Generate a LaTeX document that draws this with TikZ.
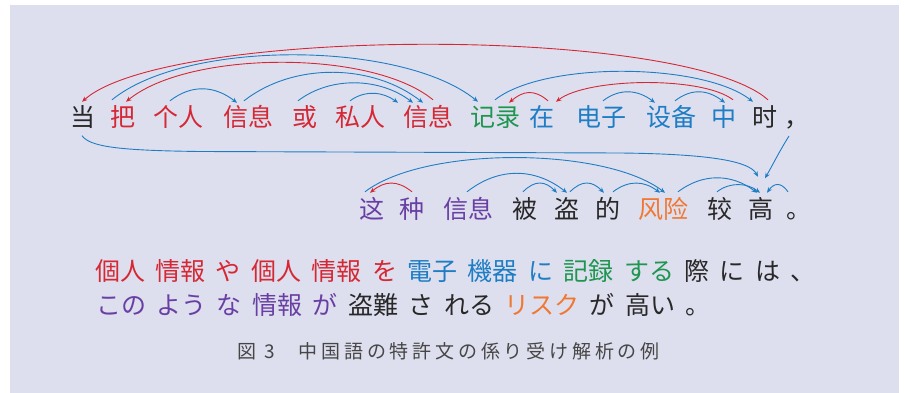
\documentclass[tikz,border=0pt]{standalone}
\usepackage{fontspec}
\usetikzlibrary{arrows.meta,calc}
\newfontfamily\zhfont{Noto Sans CJK SC}
\newfontfamily\jafont{Noto Sans CJK JP}
\definecolor{bgc}{RGB}{221,223,238}
\definecolor{jred}{RGB}{214,40,52}
\definecolor{jblue}{RGB}{30,125,196}
\definecolor{jgreen}{RGB}{30,150,80}
\definecolor{jpurple}{RGB}{106,63,163}
\definecolor{jorange}{RGB}{240,120,50}
\definecolor{jblack}{RGB}{40,40,40}
\definecolor{capgray}{RGB}{70,70,70}
\newcommand\gp{\hspace{10.4pt}}
\begin{document}
\begin{tikzpicture}[x=1pt,y=-1pt,
  zh/.style={font=\zhfont\fontsize{25}{25}\selectfont, inner sep=0pt, text height=21pt, text depth=4pt},
  ja/.style={font=\jafont\fontsize{25}{25}\selectfont, inner sep=0pt, text height=21pt, text depth=4pt, anchor=west},
  arc/.style={line width=0.9pt, -{Stealth[length=5.5pt,width=4.5pt]}},
  bl/.style={arc, color=jblue}, rd/.style={arc, color=jred}]
\useasboundingbox (0,0) rectangle (905,393);
\fill[bgc] (10,5) rectangle (899,393);
% row 1
\node[zh, text=jblack] (n1) at (83,118.5) {当};
\node[zh, text=jred] (n2) at (123,118.5) {把};
\node[zh, text=jred] (n3) at (178,118.5) {个人};
\node[zh, text=jred] (n4) at (248,118.5) {信息};
\node[zh, text=jred] (n5) at (305,118.5) {或};
\node[zh, text=jred] (n6) at (360,118.5) {私人};
\node[zh, text=jred] (n7) at (428,118.5) {信息};
\node[zh, text=jgreen] (n8) at (495,118.5) {记录};
\node[zh, text=jblue] (n9) at (542,118.5) {在};
\node[zh, text=jblue] (n10) at (601,118.5) {电子};
\node[zh, text=jblue] (n11) at (671,118.5) {设备};
\node[zh, text=jblue] (n12) at (724,118.5) {中};
\node[zh, text=jblack] (n13) at (765,118.5) {时};
\node[zh, text=jblack] (n14) at (797,118.5) {，};
% row 2
\node[zh, text=jpurple] (m1) at (372,210) {这};
\node[zh, text=jpurple] (m2) at (412,210) {种};
\node[zh, text=jpurple] (m3) at (468,210) {信息};
\node[zh, text=jblack] (m4) at (525,210) {被};
\node[zh, text=jblack] (m5) at (567,210) {盗};
\node[zh, text=jblack] (m6) at (608,210) {的};
\node[zh, text=jorange] (m7) at (663,210) {风险};
\node[zh, text=jblack] (m8) at (720,210) {较};
\node[zh, text=jblack] (m9) at (761,210) {高};
\node[zh, text=jblack] (m10) at (798.5,210) {。};
% arcs row 1
\draw[rd] ($(n13.north)+(3,-6)$) .. controls +(-85,-75) and +(85,-75) .. ($(n1.north)+(-1,-4)$);
\draw[bl] ($(n2.north)+(-11,-6)$) .. controls +(75,-61) and +(-75,-61) .. ($(n8.north)+(-17,-4)$);
\draw[rd] ($(n7.north)+(5,-6)$) .. controls +(-62,-51) and +(62,-51) .. ($(n2.north)+(3,-4)$);
\draw[bl] ($(n3.north)+(-8,-5)$) .. controls +(22,-17) and +(-22,-17) .. ($(n4.north)+(-11,-3)$);
\draw[bl] ($(n4.north)+(-4,-5)$) .. controls +(50,-39) and +(-50,-39) .. ($(n7.north)+(-5,-3)$);
\draw[bl] ($(n5.north)+(-7,-5)$) .. controls +(33,-25) and +(-33,-25) .. ($(n7.north)+(-15,-3)$);
\draw[bl] ($(n6.north)+(-10,-5)$) .. controls +(15,-11) and +(-15,-11) .. ($(n7.north)+(-30,-3)$);
\draw[bl] ($(n8.north)+(0,-6)$) .. controls +(50,-39) and +(-50,-39) .. ($(n13.north)+(-12,-4)$);
\draw[rd] ($(n9.north)+(6,-5)$) .. controls +(-14,-12) and +(14,-12) .. ($(n8.north)+(14,-3)$);
\draw[rd] ($(n12.north)+(9,-6)$) .. controls +(-31,-24) and +(31,-24) .. ($(n9.north)+(14,-4)$);
\draw[bl] ($(n10.north)+(2,-5)$) .. controls +(17,-13) and +(-17,-13) .. ($(n11.north)+(-16,-3)$);
\draw[bl] ($(n11.north)+(4,-5)$) .. controls +(17,-13) and +(-17,-13) .. ($(n12.north)+(1,-3)$);
% long links to row 2
\draw[bl] ($(n1.south)+(-1,4.5)$) .. controls (90,147) and (120,150.5) .. (200,151.5) -- (620,153) .. controls (715,154) and (750,162) .. ($(m9.north)+(-3,-20.5)$);
\draw[bl] ($(n14.center)+(-8,17.5)$) .. controls +(-10,16) and +(8,-14) .. ($(m9.north)+(4,-19)$);
% arcs row 2
\draw[bl] ($(m1.north)+(-7,-5.5)$) .. controls +(60,-46) and +(-60,-46) .. ($(m7.north)+(2,-4.5)$);
\draw[rd] ($(m2.north)+(0,-5.5)$) .. controls +(-15,-12) and +(15,-12) .. ($(m1.north)+(-2,-4.5)$);
\draw[bl] ($(m3.north)+(-1,-5.5)$) .. controls +(32,-25) and +(-32,-25) .. ($(m5.north)+(0,-4.5)$);
\draw[bl] ($(m4.north)+(-2,-5.5)$) .. controls +(12,-12) and +(-12,-12) .. ($(m5.north)+(-10,-4.5)$);
\draw[bl] ($(m5.north)+(3,-5.5)$) .. controls +(12,-12) and +(-12,-12) .. ($(m6.north)+(-4,-4.5)$);
\draw[bl] ($(m6.north)+(5,-5.5)$) .. controls +(16,-12) and +(-16,-12) .. ($(m7.north)+(-3,-4.5)$);
\draw[bl] ($(m7.north)+(15,-5.5)$) .. controls +(25,-19) and +(-25,-19) .. ($(m9.north)+(-4,-4.5)$);
\draw[bl] ($(m8.north)+(-3,-5.5)$) .. controls +(13,-10) and +(-13,-10) .. ($(m9.north)+(-1,-4.5)$);
\draw[bl] ($(m10.north)+(-10.5,-5.5)$) .. controls +(-7,-10) and +(7,-10) .. ($(m9.north)+(6,-4.5)$);
% Japanese
\node[ja] (j1) at (95,272) {\textcolor{jred}{個人\gp 情報\gp や\gp 個人\gp 情報\gp を}\gp\textcolor{jblue}{電子\gp 機器\gp に}\gp\textcolor{jgreen}{記録\gp する}\gp\textcolor{jblack}{際\gp に\gp は\gp 、}};
\node[ja] (j2) at (96,306) {\textcolor{jpurple}{この\gp よう\gp な\gp 情報\gp が}\gp\textcolor{jblack}{盗難\gp さ\gp れる}\gp\textcolor{jorange}{リスク}\gp\textcolor{jblack}{が\gp 高い\gp 。}};
\node[anchor=west, inner sep=0pt, text=capgray, font=\jafont\fontsize{19}{19}\selectfont] (cap) at (237,351) {\addfontfeature{LetterSpace=20}図\hspace{8pt}3\hspace{24pt}中国語の特許文の係り受け解析の例};
\end{tikzpicture}
\end{document}
